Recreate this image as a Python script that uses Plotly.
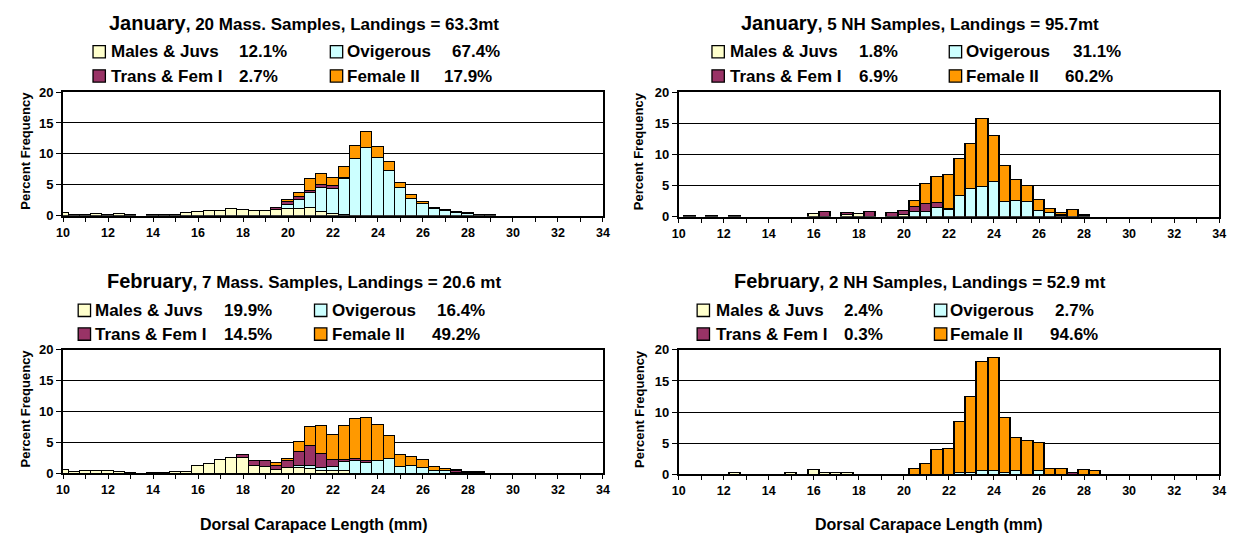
import plotly.graph_objects as go

# ---------------- DATA ----------------
bins = [10.0, 10.5, 11.0, 11.5, 12.0, 12.5, 13.0, 13.5, 14.0, 14.5,
        15.0, 15.5, 16.0, 16.5, 17.0, 17.5, 18.0, 18.5, 19.0, 19.5,
        20.0, 20.5, 21.0, 21.5, 22.0, 22.5, 23.0, 23.5, 24.0, 24.5,
        25.0, 25.5, 26.0, 26.5, 27.0, 27.5, 28.0, 28.5, 29.0, 29.5,
        30.0]

categories = ["Males & Juvs", "Ovigerous", "Trans & Fem I", "Female II"]
colors = ["#FFFFCC", "#CCFFFF", "#993366", "#FF9900"]

# January, Mass.
jan_mass_males = [0.4, 0.1, 0.15, 0.3, 0.1, 0.2, 0.05, 0, 0.05, 0.05,
                  0.05, 0.4, 0.55, 0.8, 0.8, 1.0, 0.9, 0.7, 0.7, 0.9,
                  1.1, 1.1, 1.2, 0.6, 0.2, 0.05, 0, 0, 0, 0,
                  0, 0, 0, 0, 0, 0, 0, 0, 0, 0,
                  0]
jan_mass_ovig = [0, 0, 0, 0, 0, 0, 0, 0, 0, 0,
                 0, 0, 0, 0, 0, 0, 0, 0, 0, 0.05,
                 0.65, 1.45, 2.4, 3.9, 4.1, 5.9, 9.1, 10.9, 9.4, 7.2,
                 4.5, 2.7, 1.8, 1.1, 0.75, 0.5, 0.2, 0.1, 0.05, 0,
                 0]
jan_mass_trans = [0, 0, 0, 0, 0, 0, 0, 0, 0, 0,
                  0, 0, 0, 0, 0, 0, 0, 0, 0, 0.25,
                  0.4, 0.45, 0.35, 0.5, 0.5, 0.1, 0, 0, 0, 0,
                  0, 0, 0, 0, 0, 0, 0.1, 0, 0, 0,
                  0]
jan_mass_fem2 = [0, 0, 0, 0, 0, 0, 0, 0, 0, 0,
                 0, 0, 0, 0, 0, 0, 0, 0, 0, 0,
                 0.4, 0.6, 1.9, 1.7, 1.3, 1.8, 2.2, 2.7, 1.7, 1.5,
                 0.7, 0.6, 0.4, 0.2, 0.2, 0.1, 0.1, 0.05, 0.05, 0,
                 0]

# January, NH
jan_nh_males = [0, 0.05, 0, 0.1, 0, 0.1, 0, 0, 0, 0,
                0, 0, 0.4, 0, 0, 0.2, 0.4, 0, 0, 0,
                0.3, 0, 0, 0, 0, 0, 0, 0, 0, 0,
                0, 0, 0, 0, 0, 0, 0, 0, 0, 0,
                0]
jan_nh_ovig = [0, 0, 0, 0, 0, 0, 0, 0, 0, 0,
               0, 0, 0, 0, 0, 0, 0, 0, 0, 0,
               0, 0.8, 0.8, 1.4, 1.0, 3.35, 4.5, 4.8, 5.6, 2.4,
               2.55, 2.3, 0.9, 0.55, 0.1, 0, 0.15, 0, 0, 0,
               0]
jan_nh_trans = [0, 0, 0, 0, 0, 0, 0, 0, 0, 0,
                0, 0, 0, 0.8, 0, 0.4, 0, 0.7, 0, 0.5,
                0.6, 0.7, 1.3, 0.8, 0.2, 0, 0, 0, 0, 0,
                0, 0, 0, 0, 0.2, 0, 0, 0, 0, 0,
                0]
jan_nh_fem2 = [0, 0, 0, 0, 0, 0, 0, 0, 0, 0,
               0, 0, 0, 0, 0, 0, 0, 0, 0, 0,
               0, 1.0, 3.1, 4.1, 5.45, 5.85, 7.2, 10.8, 7.3, 5.7,
               3.35, 2.55, 1.8, 0.7, 0.25, 1.05, 0.15, 0, 0, 0,
               0]

# February, Mass.
feb_mass_males = [0.65, 0.2, 0.5, 0.4, 0.45, 0.25, 0.15, 0, 0.1, 0.15,
                  0.3, 0.3, 1.2, 1.5, 2.25, 2.6, 2.5, 1.2, 1.0, 0.6,
                  0.9, 0.9, 0.7, 0.5, 0.5, 0.5, 0, 0, 0, 0,
                  0, 0, 0, 0, 0, 0, 0, 0, 0, 0,
                  0]
feb_mass_ovig = [0, 0, 0, 0, 0, 0, 0, 0, 0, 0,
                 0, 0, 0, 0, 0, 0, 0, 0, 0.1, 0,
                 0, 0.3, 0.5, 0.4, 0.55, 1.35, 2.1, 1.75, 2.0, 2.3,
                 1.1, 1.2, 0.9, 0.5, 0.35, 0.15, 0.1, 0.15, 0, 0,
                 0]
feb_mass_trans = [0, 0, 0, 0, 0, 0, 0, 0, 0, 0,
                  0, 0, 0, 0, 0, 0, 0.5, 0.9, 0.9, 0.6,
                  1.1, 2.35, 3.3, 2.3, 1.2, 0.4, 0.3, 0.25, 0.1, 0,
                  0, 0, 0, 0, 0, 0.2, 0, 0, 0, 0,
                  0]
feb_mass_fem2 = [0, 0, 0, 0, 0, 0, 0, 0, 0, 0,
                 0, 0, 0, 0, 0, 0, 0, 0, 0, 0.5,
                 0.4, 1.6, 3.05, 4.5, 4.05, 5.45, 6.5, 7.0, 5.7, 3.8,
                 1.85, 1.5, 1.35, 0.65, 0.4, 0.25, 0.2, 0.15, 0, 0,
                 0]

# February, NH
feb_nh_males = [0, 0, 0, 0, 0, 0.3, 0, 0, 0, 0,
                0.3, 0, 0.7, 0.3, 0.3, 0.3, 0, 0, 0, 0,
                0, 0, 0, 0, 0, 0, 0, 0, 0, 0,
                0, 0, 0, 0, 0, 0, 0, 0, 0, 0,
                0]
feb_nh_ovig = [0, 0, 0, 0, 0, 0, 0, 0, 0, 0,
               0, 0, 0, 0, 0, 0, 0, 0, 0, 0,
               0, 0, 0, 0, 0, 0.2, 0.2, 0.5, 0.5, 0.2,
               0.6, 0, 0.5, 0, 0, 0, 0, 0, 0, 0,
               0]
feb_nh_trans = [0, 0, 0, 0, 0, 0, 0, 0, 0, 0,
                0, 0, 0, 0, 0, 0, 0, 0, 0, 0,
                0, 0, 0, 0, 0, 0, 0, 0, 0, 0,
                0, 0, 0, 0, 0, 0.3, 0, 0, 0, 0,
                0]
feb_nh_fem2 = [0, 0, 0, 0, 0, 0, 0, 0, 0, 0,
               0, 0, 0, 0, 0, 0, 0, 0, 0, 0,
               0, 0.85, 1.75, 4.0, 4.1, 8.3, 12.3, 17.5, 18.2, 8.9,
               5.2, 5.4, 4.5, 0.95, 0.95, 0, 0.7, 0.55, 0, 0,
               0]

panel_months = ["January", "January", "February", "February"]
panel_subtitles = [", 20 Mass. Samples, Landings = 63.3mt",
                   ", 5 NH Samples, Landings = 95.7mt",
                   ", 7 Mass. Samples, Landings = 20.6 mt",
                   ", 2 NH Samples, Landings = 52.9 mt"]
panel_pcts = [["12.1%", "67.4%", "2.7%", "17.9%"],
              ["1.8%", "31.1%", "6.9%", "60.2%"],
              ["19.9%", "16.4%", "14.5%", "49.2%"],
              ["2.4%", "2.7%", "0.3%", "94.6%"]]
panel_series = [
    [jan_mass_males, jan_mass_ovig, jan_mass_trans, jan_mass_fem2],
    [jan_nh_males, jan_nh_ovig, jan_nh_trans, jan_nh_fem2],
    [feb_mass_males, feb_mass_ovig, feb_mass_trans, feb_mass_fem2],
    [feb_nh_males, feb_nh_ovig, feb_nh_trans, feb_nh_fem2],
]
y_ticks = [0, 5, 10, 15, 20]
x_ticks = [10, 12, 14, 16, 18, 20, 22, 24, 26, 28, 30, 32, 34]
x_title = "Dorsal Carapace Length (mm)"
y_title = "Percent Frequency"

# ---------------- LAYOUT ----------------
# the captured page is squeezed vertically (546 -> 537), so the figure is
# made 546 tall and everything is positioned in final 1243x537 pixel terms.
W, H = 1243, 546
REF_W, REF_H = 1243, 537
FONT = "Liberation Sans, Arial, sans-serif"


def px(x):
    return x / REF_W


def py(y):
    return 1 - y / REF_H


# plot areas in final pixels: (x0, x1, ytop, ybottom)
areas = [(56.7, 602.7, 86, 211),
         (679.3, 1226, 86, 212),
         (56.7, 602.7, 346.7, 471.7),
         (679.3, 1226, 346.7, 472.7)]

# header layout (final pixels)
title_cx = [300, 923, 300, 923]
title_cy = [16, 16, 277, 277]
row_cy = [(45.5, 70), (45.5, 70), (307, 331), (307, 331)]
box_x = [87, 713, 72, 698]
lab_x = [103, 729, 87, 715]
pct_x = [233, 860, 217, 845]
box2_x = [327, 953, 311, 938]
lab2_x = [342, 968, 327, 952]
pct2_x = [(448, 440), (1076, 1068), (433, 428), (1058, 1053)]

fig = go.Figure()
annotations = []
shapes = []

for p in range(4):
    sfx = "" if p == 0 else str(p + 1)
    x0, x1, yt, yb = areas[p]
    for c in range(4):
        vals = [v if v else None for v in panel_series[p][c]]
        fig.add_trace(go.Bar(
            x=bins, y=vals, width=0.5, name=categories[c],
            marker=dict(color=colors[c], line=dict(color="black", width=1.3)),
            xaxis="x" + sfx, yaxis="y" + sfx, showlegend=False,
        ))
    fig.update_layout(**{
        "xaxis" + sfx: dict(
            domain=[px(x0), px(x1)], anchor="y" + sfx, range=[10, 34],
            tickmode="array", tickvals=x_ticks, ticks="outside", ticklen=4,
            tickwidth=1.3, tickcolor="black",
            minor=dict(dtick=1, ticks="outside", ticklen=4, tickwidth=1.3, tickcolor="black", tick0=10),
            showline=True, linecolor="black", linewidth=1.8, mirror=True,
            showgrid=False, zeroline=False,
            tickfont=dict(family=FONT, size=12.5, color="black", weight="bold"),
        ),
        "yaxis" + sfx: dict(
            domain=[py(yb), py(yt)], anchor="x" + sfx, range=[0, 20],
            tickmode="array", tickvals=y_ticks, ticks="outside", ticklen=5,
            tickwidth=1.3, tickcolor="black",
            showline=True, linecolor="black", linewidth=1.8, mirror=True,
            showgrid=True, gridcolor="black", gridwidth=1.1, zeroline=False,
            tickfont=dict(family=FONT, size=13, color="black", weight="bold"),
        ),
    })

    # title
    annotations.append(dict(
        xref="paper", yref="paper", x=px(title_cx[p]), y=py(title_cy[p]),
        xanchor="center", yanchor="middle", showarrow=False,
        text="<span style='font-size:20px'>" + panel_months[p] + "</span>" + panel_subtitles[p],
        font=dict(family=FONT, size=17, color="black", weight="bold"),
    ))
    # legend rows
    rows = [(0, 1), (2, 3)]
    for r, (ca, cb) in enumerate(rows):
        cy = row_cy[p][r]
        for (bx, lx, pxx, ci) in [(box_x[p], lab_x[p], pct_x[p], ca),
                                  (box2_x[p], lab2_x[p], pct2_x[p][r], cb)]:
            shapes.append(dict(
                type="rect", xref="paper", yref="paper",
                x0=px(bx), x1=px(bx + 12.5), y0=py(cy + 6), y1=py(cy - 6.5),
                fillcolor=colors[ci], line=dict(color="black", width=1.3),
            ))
            annotations.append(dict(
                xref="paper", yref="paper", x=px(lx), y=py(cy),
                xanchor="left", yanchor="middle", showarrow=False,
                text=categories[ci],
                font=dict(family=FONT, size=17, color="black", weight="bold"),
            ))
            annotations.append(dict(
                xref="paper", yref="paper", x=px(pxx), y=py(cy),
                xanchor="left", yanchor="middle", showarrow=False,
                text=panel_pcts[p][ci],
                font=dict(family=FONT, size=17, color="black", weight="bold"),
            ))
    # y title
    annotations.append(dict(
        xref="paper", yref="paper", x=px(19 if p % 2 == 0 else 639), y=py((yt + yb) / 2 - 3),
        xanchor="center", yanchor="middle", showarrow=False, textangle=-90,
        text=y_title, font=dict(family=FONT, size=13, color="black", weight="bold"),
    ))
    # x title (bottom panels only)
    if p >= 2:
        annotations.append(dict(
            xref="paper", yref="paper", x=px(310 if p == 2 else 933), y=py(523),
            xanchor="center", yanchor="middle", showarrow=False,
            text=x_title, font=dict(family=FONT, size=16, color="black", weight="bold"),
        ))

fig.update_layout(
    width=W, height=H, margin=dict(l=0, r=0, t=0, b=0),
    paper_bgcolor="white", plot_bgcolor="white",
    barmode="stack", bargap=0,
    annotations=annotations, shapes=shapes,
    font=dict(family=FONT, color="black"),
)

fig.write_html("out.html")
